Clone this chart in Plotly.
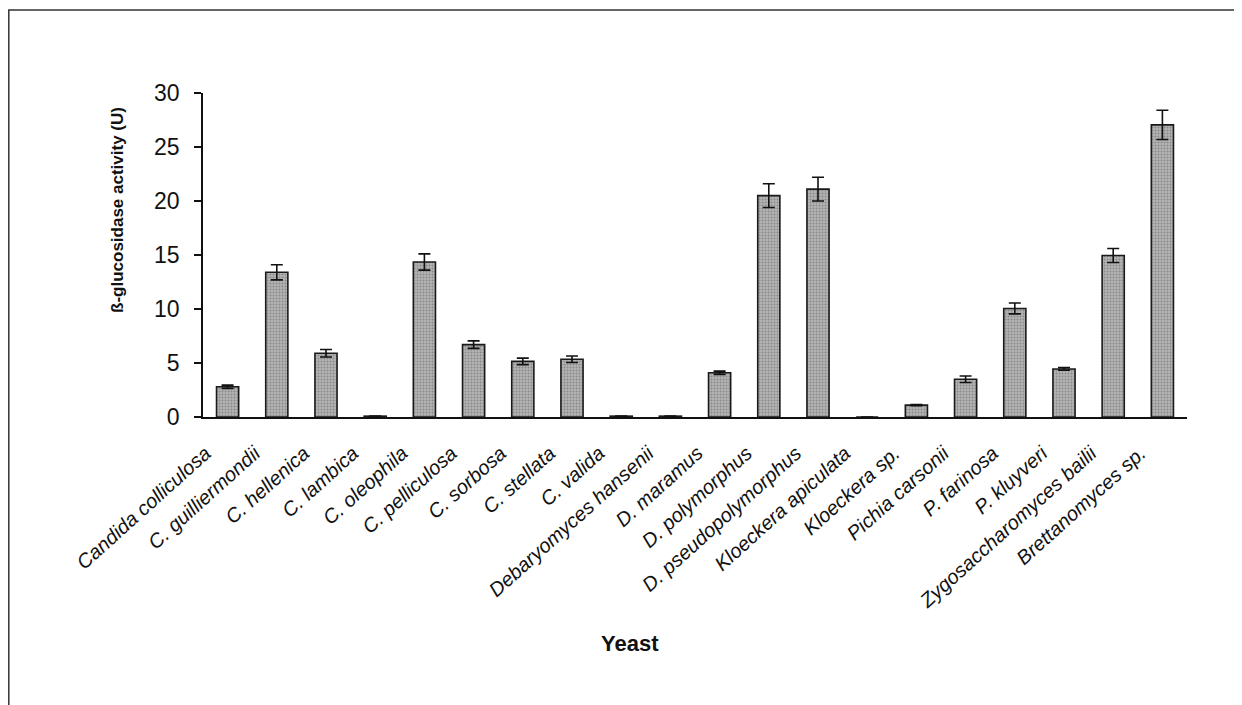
import plotly.graph_objects as go

yeasts = [
    "Candida colliculosa", "C. guilliermondii", "C. hellenica", "C. lambica",
    "C. oleophila", "C. pelliculosa", "C. sorbosa", "C. stellata", "C. valida",
    "Debaryomyces hansenii", "D. maramus", "D. polymorphus",
    "D. pseudopolymorphus", "Kloeckera apiculata", "Kloeckera sp.",
    "Pichia carsonii", "P. farinosa", "P. kluyveri",
    "Zygosaccharomyces bailii", "Brettanomyces sp.",
]
activity = [2.8, 13.4, 5.9, 0.08, 14.35, 6.7, 5.15, 5.35, 0.08, 0.08,
            4.1, 20.5, 21.1, 0.0, 1.1, 3.5, 10.05, 4.45, 14.95, 27.05]
sd = [0.15, 0.7, 0.35, 0.0, 0.75, 0.35, 0.3, 0.3, 0.0, 0.0,
      0.15, 1.1, 1.1, 0.0, 0.05, 0.3, 0.5, 0.12, 0.65, 1.35]
y_ticks = [0, 5, 10, 15, 20, 25, 30]

# page body has an 8px margin; work in page pixels and shift
OFF = 8
W, H = 1242 - OFF, 705 - OFF
L, R, T, B = 203 - OFF, 1187 - OFF, 93 - OFF, 417 - OFF


def px_x(px):
    return (px - OFF - L) / (R - L)


def px_y(py):
    return (B - (py - OFF)) / (B - T)


fig = go.Figure()
fig.add_trace(go.Bar(
    x=yeasts, y=activity, width=0.45,
    marker=dict(
        color="#a8a8a8",
        line=dict(color="#1a1a1a", width=1.6),
        pattern=dict(shape=".", fgcolor="#5e5e5e", bgcolor="#b4b4b4",
                     size=3, solidity=0.35),
    ),
    error_y=dict(type="data", array=sd, visible=True, color="#111111",
                 thickness=1.6, width=6),
    showlegend=False,
))

fig.update_layout(
    width=W, height=H,
    margin=dict(l=L, r=W - R, t=T, b=H - B, autoexpand=False),
    paper_bgcolor="white", plot_bgcolor="white",
    font=dict(family="Liberation Sans, Arial, sans-serif", color="#111111"),
    xaxis=dict(
        type="category", range=[-0.5, len(yeasts) - 0.5],
        showline=True, linecolor="#111111", linewidth=1.5,
        ticks="", showgrid=False, zeroline=False,
        tickangle=-42, ticklabelstandoff=15, ticklabelshift=-22,
        tickfont=dict(size=20, family="Liberation Sans, Arial, sans-serif",
                      style="italic", color="#111111"),
    ),
    yaxis=dict(
        range=[0, 30], tickvals=y_ticks,
        showline=True, linecolor="#111111", linewidth=1.5,
        ticks="outside", ticklen=7, tickwidth=1.5, tickcolor="#111111",
        showgrid=False, zeroline=False, ticklabelstandoff=10,
        tickfont=dict(size=23, color="#111111"),
    ),
    annotations=[
        dict(text="ß-glucosidase activity (U)", textangle=-90,
             xref="paper", yref="paper", x=px_x(117), y=px_y(210),
             showarrow=False, xanchor="center", yanchor="middle",
             font=dict(size=17, color="#111111", weight="bold")),
        dict(text="Yeast", xref="paper", yref="paper",
             x=px_x(630), y=px_y(643), showarrow=False,
             xanchor="center", yanchor="middle",
             font=dict(size=22, color="#111111", weight="bold")),
    ],
    shapes=[
        dict(type="rect", xref="paper", yref="paper",
             x0=px_x(8.8), x1=px_x(1240), y0=px_y(730), y1=px_y(10),
             line=dict(color="#333333", width=1.5), fillcolor="rgba(0,0,0,0)",
             layer="below"),
    ],
)

fig.write_html("out.html")
